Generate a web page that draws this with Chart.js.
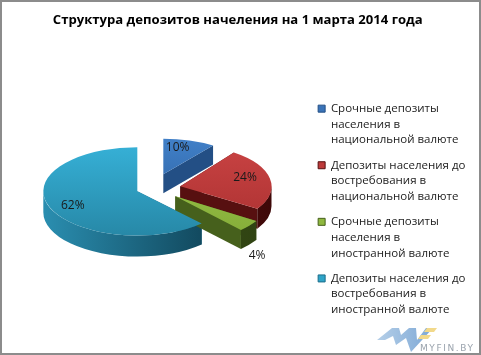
<!DOCTYPE html>
<html>
<head>
<meta charset="utf-8">
<script src="https://cdn.jsdelivr.net/npm/chart.js@4/dist/chart.umd.min.js"></script>
<style>
html, body { margin: 0; padding: 0; background: #fff; }
canvas { display: block; outline: 2px solid #8c8c8c; outline-offset: -2px; }
</style>
</head>
<body>
<canvas id="chartDeposits" width="481" height="355"></canvas>
<script>
const titleText = 'Структура депозитов начеления на 1 марта 2014 года'
const categories = [
    ['Срочные депозиты', 'населения в', 'национальной валюте'],
    ['Депозиты населения до', 'востребования в', 'национальной валюте'],
    ['Срочные депозиты', 'населения в', 'иностранной валюте'],
    ['Депозиты населения до', 'востребования в', 'иностранной валюте']
]
const shares = [10, 24, 4, 62]

// explode offset, squash and wall colours for each slice
const slices = [
    { dx: 9, dy: -15, squash: 0.42, scale: 0.9, depth: 19, base: '#3a73b8', light: '#4180c8', dark: '#2e64a4', edge: '#234f85', wallA: '#2c5a94', wallB: '#1d3f6c', label: 0.7, nudge: [-4, -3] },
    { dx: 26, dy: -3, squash: 0.46, scale: 0.97, depth: 20, base: '#bd3a3a', light: '#c94343', dark: '#ad3232', edge: '#571010', wallA: '#6e1414', wallB: '#3e0808', label: 0.7, nudge: [2, -3] },
    { dx: 21, dy: 7, squash: 0.48, scale: 1.02, depth: 19, base: '#8fb83f', light: '#9cc64a', dark: '#84ab38', edge: '#46601c', wallA: '#3e5518', wallB: '#2f4212', label: 1.08, nudge: [2, 9] },
    { dx: -17, dy: 2, squash: 0.47, scale: 1, depth: 21, base: '#2fa4c8', light: '#36b0d6', dark: '#2789a8', edge: '#1a6d8a', wallA: '#2a8eb0', wallB: '#0e3d50', label: 0.75, nudge: [1, 2] }
]

function apex(arc, s) {
    return { x: arc.x + s.dx, y: arc.y + s.dy }
}

function drawWalls(ctx, arc, s) {
    const p = apex(arc, s)
    const rx = arc.outerRadius * s.scale
    const ry = rx * s.squash
    const pt = a => [p.x + rx * Math.cos(a), p.y + ry * Math.sin(a)]

    // flat walls along both cut edges
    ;[arc.startAngle, arc.endAngle].forEach(a => {
        const q = pt(a)
        ctx.beginPath()
        ctx.moveTo(p.x, p.y)
        ctx.lineTo(q[0], q[1])
        ctx.lineTo(q[0], q[1] + s.depth)
        ctx.lineTo(p.x, p.y + s.depth)
        ctx.closePath()
        ctx.fillStyle = s.edge
        ctx.fill()
    })

    // curved outer wall, only the part facing the viewer
    const from = Math.max(arc.startAngle, 0)
    const to = Math.min(arc.endAngle, Math.PI)
    if (to > from) {
        const g = ctx.createLinearGradient(p.x - rx, 0, p.x + rx, 0)
        g.addColorStop(0, s.wallA)
        g.addColorStop(1, s.wallB)
        ctx.beginPath()
        ctx.ellipse(p.x, p.y, rx, ry, 0, from, to)
        ctx.ellipse(p.x, p.y + s.depth, rx, ry, 0, to, from, true)
        ctx.closePath()
        ctx.fillStyle = g
        ctx.fill()
    }
}

const pie3d = {
    id: 'pie3d',
    beforeDatasetDraw(chart, args) {
        const ctx = chart.ctx
        const arcs = args.meta.data
        const order = [0, 3, 1, 2]
        order.forEach(i => drawWalls(ctx, arcs[i], slices[i]))
        order.forEach(i => {
            const arc = arcs[i]
            const s = slices[i]
            const p = apex(arc, s)
            ctx.save()
            ctx.translate(p.x, p.y)
            ctx.scale(s.scale, s.scale * s.squash)
            ctx.translate(-arc.x, -arc.y)
            arc.draw(ctx)
            ctx.restore()
        })
        return false
    },
    afterDraw(chart) {
        const ctx = chart.ctx
        const arcs = chart.getDatasetMeta(0).data
        ctx.save()
        ctx.font = '12px "Open Sans"'
        ctx.fillStyle = '#1a1a1a'
        ctx.textAlign = 'center'
        ctx.textBaseline = 'middle'
        arcs.forEach((arc, i) => {
            const s = slices[i]
            const p = apex(arc, s)
            const mid = (arc.startAngle + arc.endAngle) / 2
            const r = arc.outerRadius * s.scale * s.label
            const below = s.label > 1 ? s.depth : 0
            ctx.fillText(shares[i] + '%', p.x + r * Math.cos(mid) + s.nudge[0], p.y + below + r * s.squash * Math.sin(mid) + s.nudge[1])
        })
        ctx.restore()
        drawLogo(ctx)
    }
}

function drawLogo(ctx) {
    ctx.save()
    const blue = ctx.createLinearGradient(377, 0, 430, 0)
    blue.addColorStop(0, '#b5cfe8')
    blue.addColorStop(1, '#7fa9d6')
    ctx.fillStyle = blue
    ctx.beginPath()
    ctx.moveTo(377, 340); ctx.lineTo(392, 328); ctx.lineTo(399, 328); ctx.lineTo(401, 335)
    ctx.lineTo(409, 328); ctx.lineTo(416, 328); ctx.lineTo(417, 340); ctx.lineTo(426, 328)
    ctx.lineTo(433, 328); ctx.lineTo(411, 352); ctx.lineTo(406, 338); ctx.lineTo(396, 345)
    ctx.lineTo(393, 336); ctx.lineTo(385, 340)
    ctx.closePath()
    ctx.fill()
    ctx.fillStyle = '#f2d98a'
    ctx.beginPath()
    ctx.moveTo(427, 328); ctx.lineTo(437, 328); ctx.lineTo(434, 332); ctx.lineTo(424, 332)
    ctx.moveTo(421, 335); ctx.lineTo(431, 335); ctx.lineTo(428, 339); ctx.lineTo(418, 339)
    ctx.fill()
    ctx.font = '9px "DejaVu Sans"'
    ctx.letterSpacing = '1.6px'
    ctx.fillStyle = '#9aa3ad'
    ctx.textBaseline = 'middle'
    ctx.fillText('MYFIN.BY', 420, 349)
    ctx.restore()
}

var ctxDeposits = document.getElementById('chartDeposits').getContext('2d');
var chartDeposits = new Chart(ctxDeposits, {
    type: 'pie',
    data: {
        labels: categories,
        datasets: [{
            data: shares,
            radius: 94,
            borderWidth: 0,
            backgroundColor(c) {
                const s = slices[c.dataIndex]
                const g = c.chart.ctx.createLinearGradient(0, 92, 0, 280)
                g.addColorStop(0, s.light)
                g.addColorStop(1, s.dark)
                return g
            }
        }]
    },
    plugins: [pie3d],
    options: {
        responsive: false,
        animation: false,
        events: [],
        layout: { padding: { left: 0, right: 5.5, top: 0, bottom: 14 } },
        plugins: {
            tooltip: { enabled: false },
            title: {
                display: true,
                text: titleText,
                color: '#000',
                font: { family: '"Open Sans"', size: 13.1, weight: 'bold' },
                padding: { top: 12, bottom: 10 }
            },
            legend: {
                position: 'right',
                align: 'start',
                title: { display: true, text: ' ', padding: { top: 79, bottom: 0 } },
                labels: {
                    font: { family: '"Open Sans"', size: 11.5, lineHeight: 1.365 },
                    boxWidth: 7,
                    boxHeight: 7,
                    padding: 9.5,
                    generateLabels() {
                        return categories.map((text, i) => ({
                            text: text,
                            fontColor: '#222',
                            fillStyle: slices[i].base,
                            strokeStyle: slices[i].edge,
                            lineWidth: 1,
                            hidden: false,
                            index: i
                        }))
                    }
                }
            }
        }
    }
});
</script>
</body>
</html>
